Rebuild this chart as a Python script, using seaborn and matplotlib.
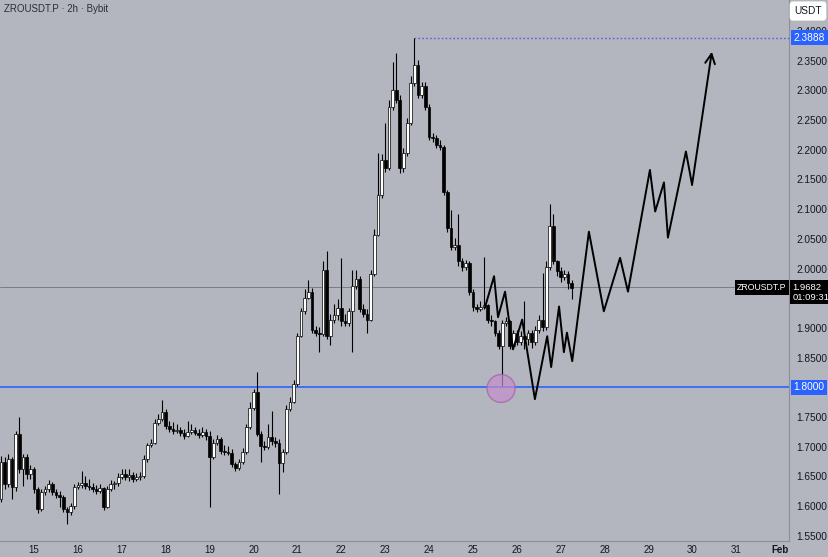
import numpy as np
import pandas as pd
import matplotlib
matplotlib.use('Agg')
import matplotlib.pyplot as plt
import matplotlib.dates as mdates
from matplotlib.patches import Ellipse
import seaborn as sns

# ZROUSDT.P 2h candles (Bybit)
first_open = 1.612
closes = [1.675, 1.637, 1.679, 1.632, 1.721, 1.662, 1.682, 1.654, 1.662, 1.629,
          1.595, 1.623, 1.629, 1.637, 1.623, 1.618, 1.615, 1.595, 1.590, 1.600,
          1.632, 1.635, 1.639, 1.634, 1.632, 1.629, 1.625, 1.630, 1.598, 1.629,
          1.637, 1.639, 1.649, 1.654, 1.649, 1.652, 1.645, 1.649, 1.650, 1.679,
          1.702, 1.707, 1.740, 1.746, 1.758, 1.734, 1.729, 1.726, 1.728, 1.723,
          1.718, 1.724, 1.728, 1.723, 1.719, 1.724, 1.718, 1.682, 1.706, 1.713,
          1.692, 1.691, 1.689, 1.671, 1.664, 1.674, 1.691, 1.733, 1.765, 1.792,
          1.721, 1.701, 1.699, 1.716, 1.709, 1.706, 1.672, 1.691, 1.763, 1.776,
          1.805, 1.887, 1.928, 1.951, 1.961, 1.897, 1.892, 1.889, 1.998, 1.887,
          1.914, 1.921, 1.934, 1.911, 1.909, 1.928, 1.970, 1.983, 1.931, 1.923,
          1.914, 1.990, 2.057, 2.123, 2.183, 2.170, 2.272, 2.301, 2.284, 2.170,
          2.195, 2.245, 2.313, 2.343, 2.292, 2.308, 2.272, 2.222, 2.220, 2.208,
          2.205, 2.129, 2.069, 2.037, 2.039, 2.012, 2.002, 2.010, 1.960, 1.936,
          1.931, 1.936, 1.938, 1.914, 1.911, 1.892, 1.869, 1.909, 1.911, 1.869,
          1.892, 1.877, 1.887, 1.881, 1.892, 1.876, 1.897, 1.914, 1.901, 2.003,
          2.071, 2.012, 1.995, 1.985, 1.990, 1.976, 1.968]
highs = [1.684, 1.682, 1.687, 1.682, 1.726, 1.750, 1.687, 1.687, 1.669, 1.666,
         1.632, 1.629, 1.634, 1.644, 1.640, 1.629, 1.625, 1.618, 1.598, 1.605,
         1.637, 1.640, 1.659, 1.650, 1.645, 1.639, 1.635, 1.637, 1.632, 1.634,
         1.644, 1.642, 1.655, 1.662, 1.662, 1.662, 1.657, 1.655, 1.657, 1.686,
         1.707, 1.713, 1.746, 1.755, 1.778, 1.763, 1.743, 1.741, 1.738, 1.733,
         1.729, 1.743, 1.738, 1.733, 1.729, 1.733, 1.729, 1.726, 1.713, 1.719,
         1.716, 1.702, 1.701, 1.696, 1.675, 1.679, 1.698, 1.738, 1.775, 1.797,
         1.825, 1.726, 1.709, 1.738, 1.760, 1.716, 1.713, 1.696, 1.770, 1.783,
         1.812, 1.892, 1.934, 1.965, 1.981, 1.968, 1.904, 1.901, 2.012, 2.029,
         1.924, 1.940, 1.948, 2.018, 1.923, 1.934, 1.998, 1.998, 1.988, 1.940,
         1.931, 1.998, 2.066, 2.195, 2.192, 2.245, 2.284, 2.348, 2.363, 2.292,
         2.203, 2.254, 2.324, 2.3888, 2.351, 2.314, 2.314, 2.277, 2.229, 2.224,
         2.217, 2.208, 2.133, 2.099, 2.052, 2.091, 2.018, 2.015, 2.012, 1.965,
         1.941, 1.945, 2.020, 1.941, 1.921, 1.914, 1.897, 1.914, 1.918, 1.914,
         1.897, 1.897, 1.894, 1.945, 1.897, 1.897, 1.904, 1.921, 1.993, 2.012,
         2.108, 2.091, 2.015, 2.002, 1.998, 1.995, 1.981]
lows = [1.607, 1.629, 1.632, 1.612, 1.625, 1.655, 1.634, 1.645, 1.645, 1.622,
        1.588, 1.591, 1.618, 1.623, 1.618, 1.613, 1.598, 1.590, 1.570, 1.585,
        1.595, 1.629, 1.630, 1.629, 1.627, 1.623, 1.620, 1.622, 1.593, 1.597,
        1.625, 1.629, 1.634, 1.645, 1.644, 1.642, 1.640, 1.642, 1.644, 1.647,
        1.675, 1.699, 1.704, 1.736, 1.743, 1.729, 1.724, 1.721, 1.723, 1.718,
        1.713, 1.716, 1.721, 1.719, 1.714, 1.716, 1.711, 1.598, 1.679, 1.702,
        1.687, 1.686, 1.686, 1.666, 1.659, 1.660, 1.671, 1.687, 1.729, 1.761,
        1.718, 1.674, 1.694, 1.696, 1.702, 1.699, 1.620, 1.657, 1.687, 1.760,
        1.773, 1.802, 1.884, 1.924, 1.948, 1.892, 1.887, 1.859, 1.886, 1.881,
        1.872, 1.909, 1.914, 1.904, 1.903, 1.904, 1.859, 1.965, 1.926, 1.918,
        1.892, 1.911, 1.987, 2.054, 2.119, 2.163, 2.166, 2.267, 2.279, 2.161,
        2.163, 2.190, 2.242, 2.308, 2.287, 2.287, 2.267, 2.217, 2.213, 2.203,
        2.200, 2.124, 2.062, 2.032, 2.032, 2.005, 1.995, 1.998, 1.955, 1.928,
        1.926, 1.928, 1.931, 1.908, 1.904, 1.886, 1.864, 1.802, 1.903, 1.864,
        1.864, 1.871, 1.872, 1.864, 1.871, 1.867, 1.871, 1.892, 1.894, 1.897,
        1.998, 2.007, 1.988, 1.978, 1.980, 1.965, 1.948]

# hand-drawn projection (day of January, price)
proj_day = [25.27, 25.48, 25.57, 25.73, 25.91, 26.12, 26.41, 26.69, 26.78, 26.96,
            27.07, 27.14, 27.26, 27.64, 27.98, 28.35, 28.53, 29.03, 29.15, 29.35,
            29.44, 29.85, 29.99, 30.44]
proj_price = [1.934, 1.987, 1.918, 1.961, 1.864, 1.914, 1.780, 1.886, 1.834, 1.936,
              1.859, 1.892, 1.844, 2.062, 1.928, 2.018, 1.961, 2.166, 2.096, 2.145,
              2.052, 2.197, 2.141, 2.365]

# axis price ticks (1.80 and 1.95 sit under the coloured labels)
price_ticks = [1.55, 1.60, 1.65, 1.70, 1.75, 1.85, 1.90, 2.00, 2.05,
               2.10, 2.15, 2.20, 2.25, 2.30, 2.35, 2.40]

last_price = 1.9682
support = 1.80
swing_high = 2.3888
circle_day, circle_price = 25.64, 1.798

# build dataframe
times = pd.date_range('2025-01-14 06:00', periods=len(closes), freq='2h')
opens = [first_open] + closes[:-1]
df = pd.DataFrame({'time': times, 'open': opens, 'high': highs, 'low': lows, 'close': closes})
df['t'] = mdates.date2num(df['time'])

jan0 = mdates.date2num(pd.Timestamp('2025-01-01')) - 1
proj_t = [jan0 + d for d in proj_day]

# style
sns.set_style('white')
plt.rcParams['font.family'] = ['Liberation Sans', 'DejaVu Sans']
bg = '#b3b6bf'
ink = '#131722'

fig = plt.figure(figsize=(8.29, 5.57), dpi=100, facecolor=bg)
ax = fig.add_axes([0, 16 / 557, 789 / 829, 541 / 557])
ax.set_facecolor(bg)

# candles
up = df['close'] >= df['open']
ax.vlines(df['t'], df['low'], df['high'], color='black', lw=0.8, zorder=3)
body_bottom = np.minimum(df['open'], df['close'])
body_h = np.maximum(np.abs(df['close'] - df['open']), 0.0015)
ax.bar(df['t'], body_h, bottom=body_bottom, width=0.062,
       color=np.where(up, 'white', 'black'), edgecolor='black', lw=0.5, zorder=4)

# levels
ax.axhline(last_price, color='#6e727d', lw=0.6, zorder=2)
ax.axhline(support, color='#2962ff', lw=1.2, zorder=2)
peak_t = df['t'][df['high'].idxmax()]
xmax = jan0 + 32.198
ax.hlines(swing_high, peak_t, xmax, colors='#5a5fd6', linestyles=(0, (1.2, 1.6)), lw=1.0, zorder=2)

# projection path with arrow
sns.lineplot(x=proj_t[:-1], y=proj_price[:-1], sort=False, estimator=None,
             color='black', lw=1.4, ax=ax, zorder=5)
ax.annotate('', xy=(proj_t[-1], proj_price[-1]), xytext=(proj_t[-2], proj_price[-2]),
            arrowprops=dict(arrowstyle='->,head_length=0.7,head_width=0.35',
                            color='black', lw=1.4, shrinkA=0, shrinkB=0), zorder=5)

# circle at the wick low
ax.add_patch(Ellipse((jan0 + circle_day, circle_price), width=0.64, height=0.047,
                     fc='#c58fca', ec='#a45dab', alpha=0.7, lw=1, zorder=6))

# axes
ax.set_xlim(jan0 + 14.2255, xmax)
ax.set_ylim(1.5412, 2.4521)
ax.set_xlabel('')
ax.set_ylabel('')

ax.xaxis.set_major_locator(mdates.DayLocator())
ax.xaxis.set_major_formatter(plt.FuncFormatter(
    lambda v, p: 'Feb' if mdates.num2date(v).day == 1 else str(mdates.num2date(v).day)))
ax.tick_params(axis='x', length=0, pad=3, labelsize=7, labelcolor=ink)

ax.yaxis.tick_right()
ax.set_yticks(price_ticks)
ax.yaxis.set_major_formatter(plt.FormatStrFormatter('%.4f'))
ax.tick_params(axis='y', length=0, pad=5, labelsize=7.3, labelcolor=ink)

for side in ['top', 'left']:
    ax.spines[side].set_visible(False)
for side in ['right', 'bottom']:
    ax.spines[side].set_color('#8c8f99')
    ax.spines[side].set_linewidth(0.8)

fig.canvas.draw()
for lbl in ax.get_xticklabels():
    if lbl.get_text() == 'Feb':
        lbl.set_fontweight('bold')

# price labels on the axis
ytr = ax.get_yaxis_transform()
ax.text(1.006, support, '1.8000', transform=ytr, ha='left', va='center', fontsize=7.3,
        color='white', bbox=dict(boxstyle='square,pad=0.25', fc='#2962ff', ec='none'),
        zorder=10, clip_on=False)
ax.text(1.006, swing_high, '2.3888', transform=ytr, ha='left', va='center', fontsize=7.3,
        color='white', bbox=dict(boxstyle='square,pad=0.25', fc='#2962ff', ec='none'),
        zorder=10, clip_on=False)
ax.text(1.004, last_price - 0.008, '1.9682\n01:09:31', transform=ytr, ha='left', va='center',
        fontsize=6.8, color='white', linespacing=1.15,
        bbox=dict(boxstyle='square,pad=0.25', fc='black', ec='none'), zorder=10, clip_on=False)
ax.text(0.997, last_price, 'ZROUSDT.P', transform=ytr, ha='right', va='center', fontsize=6.3,
        color='white', bbox=dict(boxstyle='square,pad=0.3', fc='black', ec='none'), zorder=10)

fig.text(808 / 829, 1 - 11 / 557, 'USDT', ha='center', va='center', fontsize=7.3, color=ink,
         bbox=dict(boxstyle='round,pad=0.45,rounding_size=0.3', fc='white', ec='none'))
fig.text(4 / 829, 1 - 9 / 557, 'ZROUSDT.P · 2h · Bybit', ha='left', va='center',
         fontsize=7, color='#2a2e39')

fig.savefig('out.png', dpi=100, facecolor=bg)
